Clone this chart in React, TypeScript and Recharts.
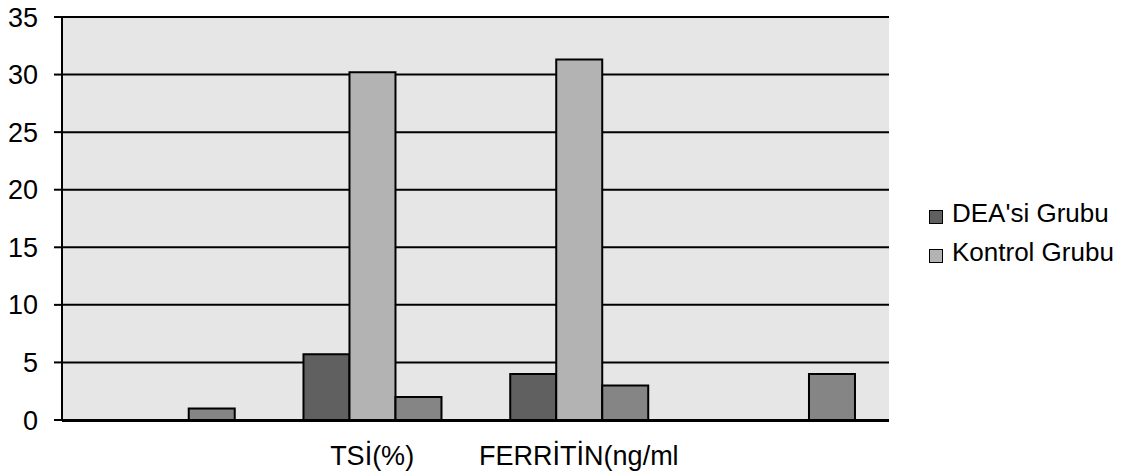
import { Bar, BarChart, CartesianGrid, Legend, XAxis, YAxis } from 'recharts';

const FONT = '"Liberation Sans", Arial, sans-serif';

// category labels along the bottom (outer groups carry no label)
const categories = ['', 'TSİ(%)', 'FERRİTİN(ng/ml', ''];
const deaValues = [null, 5.7, 4, null];
const kontrolValues = [null, 30.2, 31.3, null];
const seri3Values = [1, 2, 3, 4];
const yTicks = [0, 5, 10, 15, 20, 25, 30, 35];
const edgeTicks = [0, 1, 2, 3, 4];

const data = categories.map((label, i) => ({
  label,
  dea: deaValues[i],
  kontrol: kontrolValues[i],
  seri3: seri3Values[i],
}));

function LegendBox({ payload }: any) {
  const items = (payload || []).filter((item: any) => item.type !== 'none' && item.value !== 'Seri 3');
  return (
    <div style={{ fontFamily: FONT, fontSize: 26, color: '#000' }}>
      {items.map((item: any) => (
        <div key={item.value} style={{ display: 'flex', alignItems: 'center', height: 39 }}>
          <span
            style={{
              display: 'inline-block',
              width: 12,
              height: 12,
              background: item.color,
              border: '1px solid #000',
              marginRight: 9,
              marginTop: 6,
            }}
          />
          <span>{item.value}</span>
        </div>
      ))}
    </div>
  );
}

export default function App() {
  return (
    <div style={{ position: 'absolute', left: 0, top: 0, background: '#fff' }}>
      <BarChart
        width={1129}
        height={476}
        data={data}
        margin={{ top: 17, right: 240, left: 0, bottom: 54 }}
        barCategoryGap="16.8%"
        barGap={0}
      >
        <CartesianGrid
          xAxisId="cat"
          vertical={false}
          fill="#e6e6e6"
          stroke="#000"
          strokeWidth={2}
        />
        <XAxis
          xAxisId="cat"
          dataKey="label"
          height={1}
          axisLine={false}
          tickLine={false}
          tickSize={0}
          tickMargin={26}
          interval={0}
          tick={{ fill: '#000', fontSize: 27, fontFamily: FONT }}
        />
        {/* category boundary ticks and the baseline */}
        <XAxis
          xAxisId="edge"
          type="number"
          domain={[0, 4]}
          ticks={edgeTicks}
          tick={false}
          tickSize={7}
          height={1}
          axisLine={{ stroke: '#000', strokeWidth: 2 }}
          tickLine={{ stroke: '#000', strokeWidth: 2 }}
        />
        <YAxis
          type="number"
          domain={[0, 35]}
          ticks={yTicks}
          width={62}
          tickSize={8}
          tickMargin={16}
          axisLine={{ stroke: '#000', strokeWidth: 2 }}
          tickLine={{ stroke: '#000', strokeWidth: 2 }}
          tick={{ fill: '#000', fontSize: 27, fontFamily: FONT }}
        />
        <Legend
          content={<LegendBox />}
          layout="vertical"
          align="center"
          verticalAlign="middle"
          wrapperStyle={{ position: 'absolute', left: 929, top: 194, width: 200 }}
        />
        <Bar xAxisId="cat" dataKey="dea" name="DEA'si Grubu" fill="#606060" stroke="#000" strokeWidth={2} isAnimationActive={false} />
        <Bar xAxisId="cat" dataKey="kontrol" name="Kontrol Grubu" fill="#b3b3b3" stroke="#000" strokeWidth={2} isAnimationActive={false} />
        <Bar xAxisId="cat" dataKey="seri3" name="Seri 3" legendType="none" fill="#858585" stroke="#000" strokeWidth={2} isAnimationActive={false} />
      </BarChart>
    </div>
  );
}
